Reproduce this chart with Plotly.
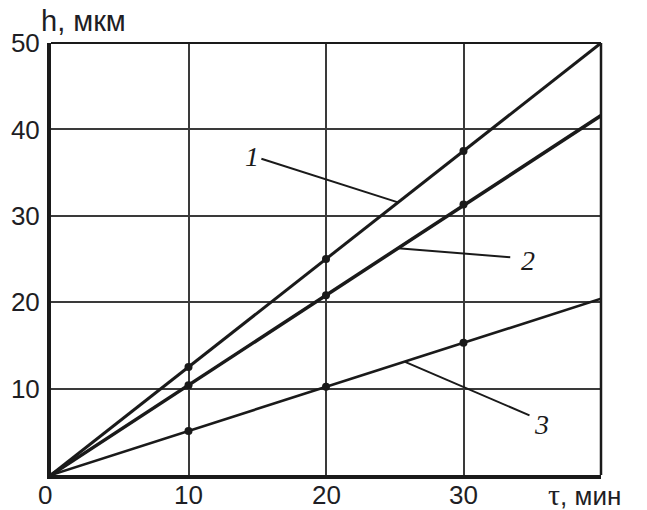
import plotly.graph_objects as go

# Process time, min, and layer thickness, um, for three regimes
tau = [0, 10, 20, 30, 40]
h1 = [0, 12.5, 25.0, 37.5, 50.0]
h2 = [0, 10.4, 20.8, 31.3, 41.6]
h3 = [0, 5.1, 10.2, 15.3, 20.4]

x_ticks = [0, 10, 20, 30]
y_ticks = [10, 20, 30, 40, 50]

# curve labels: (text, label x, label y, leader start x, y, leader end on the curve x, y)
curve_labels = [
    ("1", 14.6, 36.9, 15.3, 36.6, 25.24, 31.55),
    ("2", 34.7, 24.8, 33.4, 25.2, 25.24, 26.25),
    ("3", 35.7, 5.8, 34.8, 6.9, 25.75, 13.1),
]

INK = "#1a1a1a"
TXT = "#1e1e24"
SANS = "Liberation Sans"
fig = go.Figure()

for h, w in [(h1, 3), (h2, 3.5), (h3, 2.6)]:
    fig.add_trace(go.Scatter(x=tau, y=h, mode="lines",
                             line=dict(color=INK, width=w), showlegend=False))
    fig.add_trace(go.Scatter(x=tau[1:4], y=h[1:4], mode="markers",
                             marker=dict(color=INK, size=8), showlegend=False))

for text, lx, ly, sx, sy, ex, ey in curve_labels:
    fig.add_shape(type="line", x0=sx, y0=sy, x1=ex, y1=ey, xref="x", yref="y",
                  line=dict(color=INK, width=2))
    fig.add_annotation(x=lx, y=ly, xref="x", yref="y", text="<i>" + text + "</i>",
                       showarrow=False,
                       font=dict(family="Liberation Serif", size=28, color=INK),
                       xanchor="center", yanchor="middle")

# frame: heavy left/bottom axes, lighter top/right edges
fig.add_shape(type="line", xref="paper", yref="paper", x0=0, x1=1, y0=1, y1=1,
              line=dict(color=INK, width=2))
fig.add_shape(type="line", xref="paper", yref="paper", x0=1, x1=1, y0=0, y1=1,
              line=dict(color=INK, width=2.5))

# x tick labels sit just under the axis; the zero is nudged left of the corner
for v in x_ticks:
    fig.add_annotation(x=v, y=-0.047, xref="x", yref="paper", text=str(v),
                       showarrow=False, xanchor="center", yanchor="middle",
                       xshift=-6 if v == 0 else 0,
                       font=dict(family=SANS, size=26, color=TXT))

fig.add_annotation(xref="paper", yref="paper", x=-0.022, y=1.05, text="h, мкм",
                   showarrow=False, xanchor="left", yanchor="middle",
                   font=dict(family=SANS, size=29, color=TXT))
fig.add_annotation(xref="paper", yref="paper", x=0.9, y=-0.044,
                   text="<span style='font-family:Liberation Serif;font-size:30px'>τ</span>, мин",
                   showarrow=False, xanchor="left", yanchor="middle",
                   font=dict(family=SANS, size=26, color=TXT))

axis_common = dict(showgrid=True, gridcolor="#3a3a3a", gridwidth=1.5,
                   showline=True, linecolor=INK, linewidth=4, zeroline=False,
                   automargin=False, ticks="",
                   tickfont=dict(family=SANS, size=26, color=TXT))
fig.update_xaxes(range=[0, 40], tickvals=x_ticks, showticklabels=False, **axis_common)
fig.update_yaxes(range=[0, 50], tickvals=y_ticks, ticktext=[str(v) for v in y_ticks],
                 ticklabelstandoff=2, **axis_common)

fig.update_layout(width=647, height=510, margin=dict(l=51, r=46, t=43, b=35),
                  plot_bgcolor="white", paper_bgcolor="white")

fig.write_html("out.html")
